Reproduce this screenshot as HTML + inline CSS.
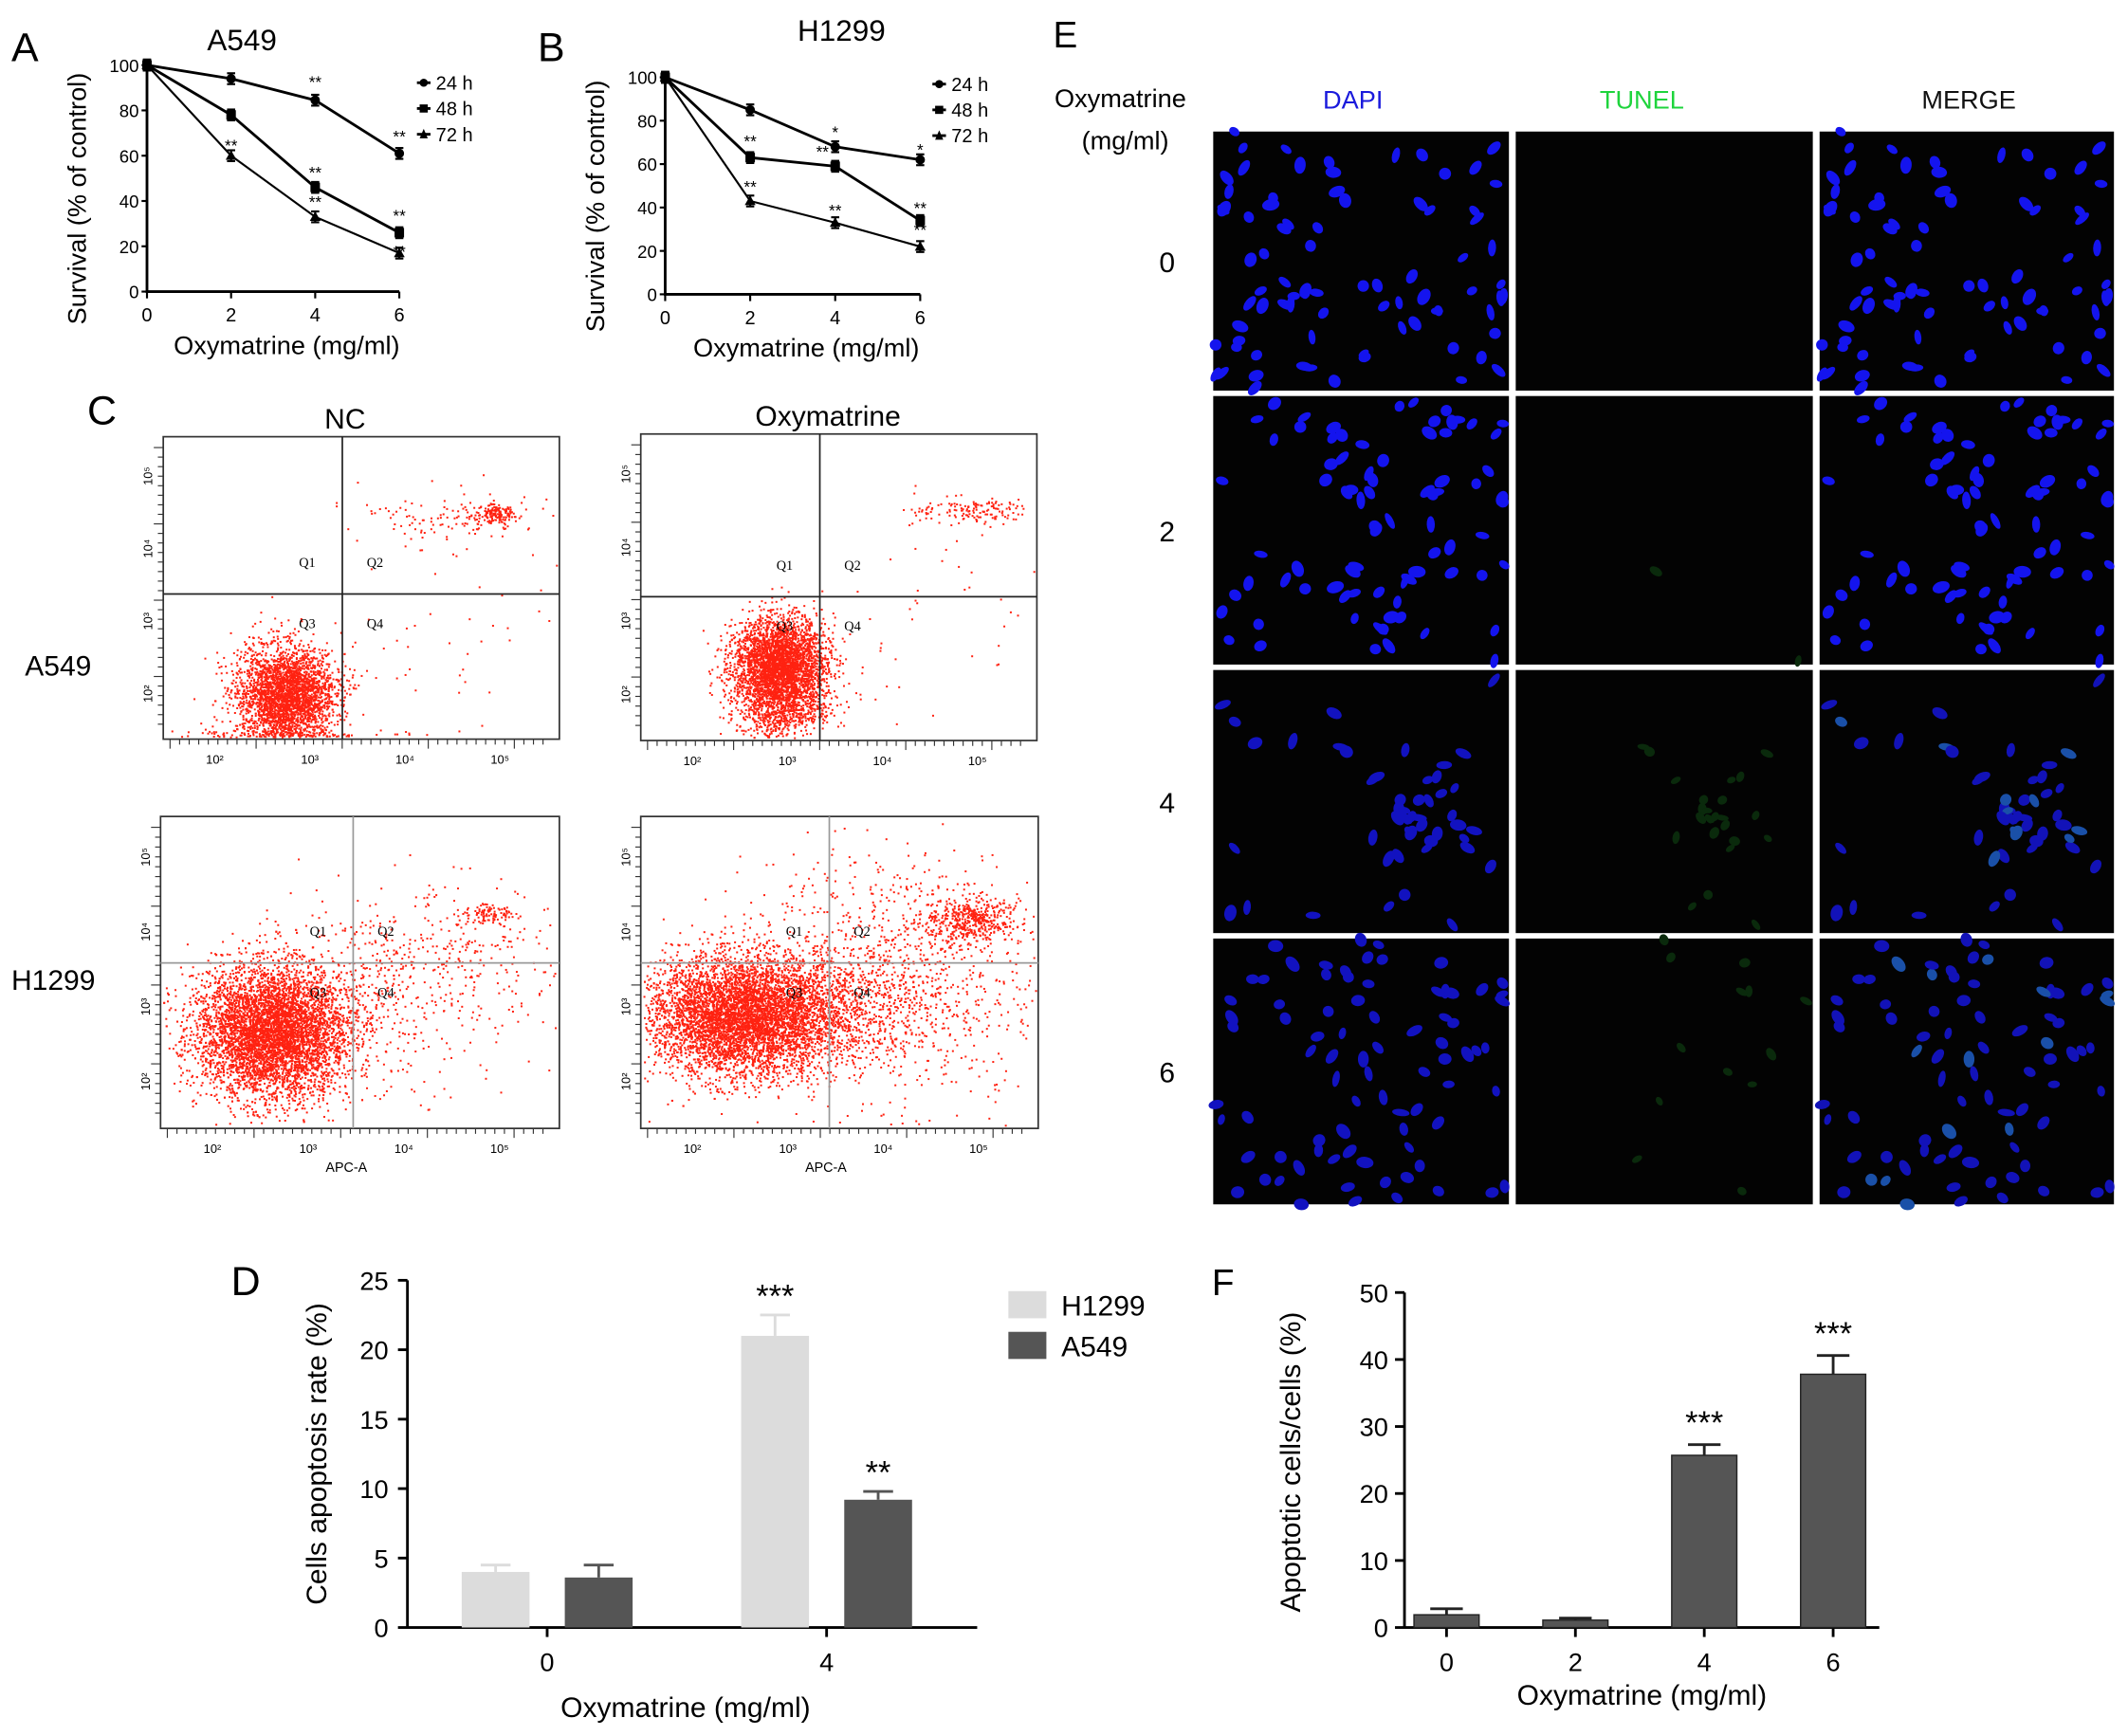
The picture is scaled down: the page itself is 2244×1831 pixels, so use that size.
<!DOCTYPE html>
<html><head><meta charset="utf-8"><style>
html,body{margin:0;padding:0;background:#fff;}
svg{display:block;font-family:"Liberation Sans",Arial,sans-serif;}
</style></head><body>
<svg id="fig" width="2244" height="1831" viewBox="0 0 1568 1280" xmlns="http://www.w3.org/2000/svg">
<rect width="1568" height="1280" fill="#fff"/>
<g id="panelA"></g>
<g id="panelB"></g>
<g id="panelC"></g>
<g id="panelE"></g>
<g id="panelD"></g>
<g id="panelF"></g>
</svg>
<script>
// ---- data ----
const doseCats = [0, 2, 4, 6];
const seriesLabels = ["24 h", "48 h", "72 h"];
const a549_24 = [100, 94, 84.5, 61];
const a549_48 = [100, 78, 46, 26];
const a549_72 = [100, 60, 33, 17];
const h1299_24 = [100, 85, 68, 62];
const h1299_48 = [100, 63, 59, 34];
const h1299_72 = [100, 43, 33, 22];
const survTicks = [0, 20, 40, 60, 80, 100];
const dCats = ["0", "4"];
const dH1299 = [4.0, 21.0];
const dH1299Err = [0.5, 1.5];
const dA549 = [3.6, 9.2];
const dA549Err = [0.9, 0.6];
const dTicks = [0, 5, 10, 15, 20, 25];
const fCats = ["0", "2", "4", "6"];
const fVals = [1.9, 1.1, 25.7, 37.8];
const fErr = [0.9, 0.3, 1.6, 2.8];
const fTicks = [0, 10, 20, 30, 40, 50];

const NS = "http://www.w3.org/2000/svg";
function mk(parent, tag, attrs, text){
  const e = document.createElementNS(NS, tag);
  for (const k in attrs) e.setAttribute(k, attrs[k]);
  if (text !== undefined) e.textContent = text;
  parent.appendChild(e);
  return e;
}
let seed = 12345;
function rnd(){ seed = (seed * 1103515245 + 12345) % 2147483648; return seed / 2147483648; }
function gauss(){ let u = rnd() || 1e-6, v = rnd(); return Math.sqrt(-2*Math.log(u))*Math.cos(2*Math.PI*v); }

// ---- line charts ----
function lineChart(g, x0, x1, y0, y1, title, tx, ty, letter, lx, s24, s48, s72, stars, legX, legY){
  const xs = v => x0 + (v/6)*(x1-x0);
  const ys = v => y0 - (v/100)*(y0-y1);
  let t = mk(g,'text',{x:lx,y:45,'font-size':30},letter);
  
  
  t = mk(g,'text',{x:tx,y:ty,'font-size':22,'text-anchor':'middle'},title);
  
  
  let ax = mk(g,'path',{d:`M${x0} ${ys(100)-2}V${y0}H${xs(6)}`,stroke:'#000','stroke-width':2,fill:'none'});
  
  
  survTicks.forEach(v=>{
    mk(g,'line',{x1:x0-4,x2:x0,y1:ys(v),y2:ys(v),stroke:'#000','stroke-width':1.5});
    const l = mk(g,'text',{x:x0-6,y:ys(v)+5,'font-size':13,'text-anchor':'end'},String(v));
    
    
  });
  doseCats.forEach(v=>{
    mk(g,'line',{x1:xs(v),x2:xs(v),y1:y0,y2:y0+5,stroke:'#000','stroke-width':1.5});
    const l = mk(g,'text',{x:xs(v),y:y0+22,'font-size':14,'text-anchor':'middle'},String(v));
    
    
  });
  t = mk(g,'text',{x:(x0+x1)/2+10,y:y0+46,'font-size':19,'text-anchor':'middle'},'Oxymatrine (mg/ml)');
  
  
  t = mk(g,'text',{x:0,y:0,'font-size':19,'text-anchor':'middle',transform:`translate(${x0-45},${(y0+ys(100))/2+15}) rotate(-90)`},'Survival (% of control)');
  
  
  [s24,s48,s72].forEach((s,i)=>{
    const p = mk(g,'polyline',{points:s.map((v,j)=>`${xs(doseCats[j])},${ys(v)}`).join(' '),fill:'none',stroke:'#000','stroke-width':i==2?1.5:2});
    
    
    s.forEach((v,j)=>{
      const cx = xs(doseCats[j]), cy = ys(v);
      mk(g,'line',{x1:cx,x2:cx,y1:cy-4,y2:cy+4,stroke:'#000','stroke-width':1.5});
      mk(g,'line',{x1:cx-3,x2:cx+3,y1:cy-4,y2:cy-4,stroke:'#000','stroke-width':1.5});
      mk(g,'line',{x1:cx-3,x2:cx+3,y1:cy+4,y2:cy+4,stroke:'#000','stroke-width':1.5});
      let m;
      if(i==0) m = mk(g,'circle',{cx,cy,r:3.5,fill:'#000'});
      else if(i==1) m = mk(g,'rect',{x:cx-3.5,y:cy-3.5,width:7,height:7,fill:'#000'});
      else m = mk(g,'path',{d:`M${cx} ${cy-4}L${cx+4} ${cy+3}L${cx-4} ${cy+3}Z`,fill:'#000'});
      
      
    });
  });
  stars.forEach(st=>{
    mk(g,'text',{x:xs(st[0]),y:ys(st[1]),'font-size':12,'text-anchor':'middle'},st[2]);
  });
  seriesLabels.forEach((lab,i)=>{
    const yy = legY + i*19;
    mk(g,'line',{x1:legX,x2:legX+10,y1:yy-5,y2:yy-5,stroke:'#000','stroke-width':2});
    if(i==0) mk(g,'circle',{cx:legX+5,cy:yy-5,r:3,fill:'#000'});
    else if(i==1) mk(g,'rect',{x:legX+2,y:yy-8,width:6,height:6,fill:'#000'});
    else mk(g,'path',{d:`M${legX+5} ${yy-9}L${legX+8} ${yy-2}L${legX+2} ${yy-2}Z`,fill:'#000'});
    const l = mk(g,'text',{x:legX+14,y:yy,'font-size':14},lab);
    
    
  });
}
lineChart(document.getElementById('panelA'),108,294,215,48,'A549',178,37,'A',8,a549_24,a549_48,a549_72,
  [[4,90,'**'],[6,66,'**'],[2,62,'**'],[4,50,'**'],[4,37,'**'],[6,31,'**'],[6,15,'**']],307,66);
lineChart(document.getElementById('panelB'),490,678,217,57,'H1299',620,30,'B',396,h1299_24,h1299_48,h1299_72,
  [[4,72,'*'],[6,64,'*'],[2,68,'**'],[2,47,'**'],[3.7,63,'**'],[4,36,'**'],[6,37,'**'],[6,27,'**']],687,67);

// ---- flow cytometry ----
const pC = document.getElementById('panelC');
let t = mk(pC,'text',{x:64,y:313,'font-size':30},'C');


t = mk(pC,'text',{x:254,y:316,'font-size':21,'text-anchor':'middle'},'NC');


t = mk(pC,'text',{x:610,y:314,'font-size':21,'text-anchor':'middle'},'Oxymatrine');


t = mk(pC,'text',{x:18,y:498,'font-size':21},'A549');


t = mk(pC,'text',{x:8,y:730,'font-size':21},'H1299');


function flow(x,y,w,h,qx,qy,gray,clusters,name,apc){
  const g = mk(pC,'g',{});
  
  
  mk(g,'rect',{x,y,width:w,height:h,fill:'#fff',stroke:'#333','stroke-width':1.2});
  clusters.forEach(c=>{
    for(let i=0;i<c.n;i++){
      let px = c.x + gauss()*c.sx, py = c.y + gauss()*c.sy + (c.tilt||0)*(px-c.x);
      if(px<x+2||px>x+w-2||py<y+2||py>y+h-2) continue;
      mk(g,'rect',{x:px.toFixed(1),y:py.toFixed(1),width:1.4,height:1.4,fill:'#f21'});
    }
  });
  const lc = gray?'#999':'#222';
  mk(g,'line',{x1:x+qx,x2:x+qx,y1:y,y2:y+h,stroke:lc,'stroke-width':1.2});
  mk(g,'line',{x1:x,x2:x+w,y1:y+qy,y2:y+qy,stroke:lc,'stroke-width':1.2});
  [['Q1',-32,-20],['Q2',18,-20],['Q3',-32,25],['Q4',18,25]].forEach(q=>{
    mk(g,'text',{x:x+qx+q[1],y:y+qy+q[2],'font-size':10,'font-family':'Liberation Serif'},q[0]);
  });
  for(let i=0;i<40;i++){ const tx=x+5+i*(w-10)/40; mk(g,'line',{x1:tx,x2:tx,y1:y+h,y2:y+h+(i%9==0?7:4),stroke:'#333','stroke-width':0.8}); }
  for(let i=0;i<30;i++){ const ty=y+8+i*(h-12)/30; mk(g,'line',{x1:x-(i%8==0?7:4),x2:x,y1:ty,y2:ty,stroke:'#333','stroke-width':0.8}); }
  ['10²','10³','10⁴','10⁵'].forEach((l,i)=>{
    mk(g,'text',{x:x+w*(0.13+i*0.24),y:y+h+18,'font-size':9,'text-anchor':'middle'},l);
    mk(g,'text',{x:0,y:0,'font-size':9,'text-anchor':'middle',transform:`translate(${x-8},${y+h*(0.85-i*0.24)}) rotate(-90)`},l);
  });
  if(apc) mk(g,'text',{x:x+w/2-10,y:y+h+32,'font-size':10,'text-anchor':'middle'},'APC-A');
}
flow(120,322,292,223,132,116,false,[{x:210,y:512,sx:18,sy:18,n:3000},{x:210,y:542,sx:40,sy:2,n:150},{x:365,y:378,sx:8,sy:4,n:150},{x:330,y:382,sx:30,sy:10,n:120},{x:330,y:470,sx:60,sy:50,n:50}],'flow-nc-a549',false);
flow(472,320,292,226,132,120,false,[{x:574,y:490,sx:17,sy:17,n:3500},{x:574,y:525,sx:18,sy:10,n:500},{x:715,y:376,sx:22,sy:5,n:150},{x:690,y:460,sx:50,sy:50,n:50}],'flow-oxymatrine-a549',false);
flow(118,602,294,230,142,108,true,[{x:200,y:760,sx:28,sy:24,n:6000},{x:360,y:673,sx:10,sy:4,n:100},{x:320,y:700,sx:45,sy:25,n:250},{x:280,y:740,sx:50,sy:35,n:400}],'flow-nc-h1299',true);
flow(472,602,293,230,139,108,true,[{x:545,y:748,sx:34,sy:22,n:5500},{x:716,y:678,sx:18,sy:8,n:450},{x:660,y:720,sx:55,sy:45,n:1100},{x:600,y:745,sx:40,sy:20,n:900}],'flow-oxymatrine-h1299',true);

// ---- TUNEL images ----
const pE = document.getElementById('panelE');
t = mk(pE,'text',{x:776,y:35,'font-size':27},'E');


t = mk(pE,'text',{x:777,y:79,'font-size':19},'Oxymatrine');


mk(pE,'text',{x:797,y:110,'font-size':19},'(mg/ml)');
[['DAPI',997,'#1a1adc'],['TUNEL',1210,'#1ed43c'],['MERGE',1451,'#111']].forEach(c=>{
  const l = mk(pE,'text',{x:c[1],y:80,'font-size':19,'text-anchor':'middle',fill:c[2]},c[0]);
  
  
});
const cols = [[894,218],[1117,219],[1341,217]];
const rows = [[97,191,'0',0],[292,198,'2',0.03],[494,194,'4',0.5],[692,196,'6',0.3]];
rows.forEach((r,ri)=>{
  const l = mk(pE,'text',{x:860,y:r[0]+r[1]/2+8,'font-size':21,'text-anchor':'middle'},r[2]);
  
  
  const cells = [];
  const n = ri==2?50:80;
  for(let i=0;i<n;i++){
    let cx = rnd(), cy = rnd();
    if(ri==2 && rnd()<0.6){ cx = 0.55+rnd()*0.35; cy = 0.3+rnd()*0.45; }
    cells.push([cx,cy,2.5+rnd()*2,4+rnd()*2.5,rnd()*180]);
  }
  cols.forEach((c,ci)=>{
    const g = mk(pE,'g',{});
    
    
    mk(g,'rect',{x:c[0],y:r[0],width:c[1],height:r[1],fill:'#030303'});
    cells.forEach(ce=>{
      const cx=c[0]+ce[0]*c[1], cy=r[0]+ce[1]*r[1];
      let fill=null, rx=ce[2], ry=ce[3];
      if(ci==0) fill = ri>=2?'#1212c0':'#1414ee';
      else if(ci==1){ if(r[3]>0 && ce[0]>0.4 && rnd()<r[3]){ fill='#0a2a0c'; rx*=0.8; ry*=0.8; } }
      else fill = (r[3]>0.2 && rnd()<0.2)?'#1a50a8':(ri>=2?'#1212b8':'#1414ee');
      if(fill) mk(g,'ellipse',{cx,cy,rx,ry,fill,transform:`rotate(${ce[4]} ${cx} ${cy})`});
    });
  });
});

// ---- bar chart D ----
const pD = document.getElementById('panelD');
t = mk(pD,'text',{x:170,y:955,'font-size':30},'D');


(function(){
  const x0=300, y0=1200, yTop=944, yMax=25;
  const ys = v => y0 - v/yMax*(y0-yTop);
  const groupX = [403, 609];
  mk(pD,'path',{d:`M${x0} ${yTop}V${y0}H720`,stroke:'#000','stroke-width':2,fill:'none'});
  dTicks.forEach(v=>{
    mk(pD,'line',{x1:x0-7,x2:x0,y1:ys(v),y2:ys(v),stroke:'#000','stroke-width':2});
    const l = mk(pD,'text',{x:x0-14,y:ys(v)+7,'font-size':19,'text-anchor':'end'},String(v));
    
    
  });
  dCats.forEach((c,i)=>{
    const gx = groupX[i];
    mk(pD,'line',{x1:gx,x2:gx,y1:y0,y2:y0+7,stroke:'#000','stroke-width':2});
    const l = mk(pD,'text',{x:gx,y:y0+32,'font-size':19,'text-anchor':'middle'},c);
    
    
    [[dH1299,dH1299Err,'#dcdcdc',-38,'h1299'],[dA549,dA549Err,'#555555',38,'a549']].forEach(s=>{
      const v=s[0][i], e=s[1][i], bx=gx+s[3];
      const b = mk(pD,'rect',{x:bx-25,y:ys(v),width:50,height:y0-ys(v),fill:s[2]});
      
      
      mk(pD,'line',{x1:bx,x2:bx,y1:ys(v),y2:ys(v+e),stroke:s[2],'stroke-width':2});
      mk(pD,'line',{x1:bx-11,x2:bx+11,y1:ys(v+e),y2:ys(v+e),stroke:s[2],'stroke-width':2});
    });
  });
  mk(pD,'text',{x:571,y:ys(dH1299[1]+dH1299Err[1])-6,'font-size':24,'text-anchor':'middle'},'***');
  mk(pD,'text',{x:647,y:ys(dA549[1]+dA549Err[1])-6,'font-size':24,'text-anchor':'middle'},'**');
  let tt = mk(pD,'text',{x:505,y:1266,'font-size':21,'text-anchor':'middle'},'Oxymatrine (mg/ml)');
  
  
  tt = mk(pD,'text',{x:0,y:0,'font-size':21,'text-anchor':'middle',transform:`translate(240,1072) rotate(-90)`},'Cells apoptosis rate (%)');
  
  
  [['H1299','#dcdcdc',963],['A549','#555555',993]].forEach(l=>{
    mk(pD,'rect',{x:743,y:l[2]-11,width:28,height:20,fill:l[1]});
    const e = mk(pD,'text',{x:782,y:l[2]+7,'font-size':21},l[0]);
    
    
  });
})();

// ---- bar chart F ----
const pF = document.getElementById('panelF');
t = mk(pF,'text',{x:893,y:955,'font-size':27},'F');


(function(){
  const x0=1035, y0=1200, yTop=953, yMax=50;
  const ys = v => y0 - v/yMax*(y0-yTop);
  const xs = i => 1066 + i*95;
  mk(pF,'path',{d:`M${x0} ${yTop}V${y0}H1385`,stroke:'#000','stroke-width':2,fill:'none'});
  fTicks.forEach(v=>{
    mk(pF,'line',{x1:x0-7,x2:x0,y1:ys(v),y2:ys(v),stroke:'#000','stroke-width':2});
    const l = mk(pF,'text',{x:x0-12,y:ys(v)+7,'font-size':19,'text-anchor':'end'},String(v));
    
    
  });
  fCats.forEach((c,i)=>{
    const bx = xs(i), v=fVals[i], e=fErr[i];
    mk(pF,'line',{x1:bx,x2:bx,y1:y0,y2:y0+7,stroke:'#000','stroke-width':2});
    const l = mk(pF,'text',{x:bx,y:y0+32,'font-size':19,'text-anchor':'middle'},c);
    
    
    const b = mk(pF,'rect',{x:bx-24,y:ys(v),width:48,height:y0-ys(v),fill:'#555',stroke:'#222','stroke-width':1});
    
    
    mk(pF,'line',{x1:bx,x2:bx,y1:ys(v),y2:ys(v+e),stroke:'#222','stroke-width':2});
    mk(pF,'line',{x1:bx-12,x2:bx+12,y1:ys(v+e),y2:ys(v+e),stroke:'#222','stroke-width':2});
    if(v>20) mk(pF,'text',{x:bx,y:ys(v+e)-8,'font-size':24,'text-anchor':'middle'},'***');
  });
  let tt = mk(pF,'text',{x:1210,y:1257,'font-size':21,'text-anchor':'middle'},'Oxymatrine (mg/ml)');
  
  
  tt = mk(pF,'text',{x:0,y:0,'font-size':21,'text-anchor':'middle',transform:`translate(958,1078) rotate(-90)`},'Apoptotic cells/cells (%)');
  
  
})();
</script>
</body></html>
